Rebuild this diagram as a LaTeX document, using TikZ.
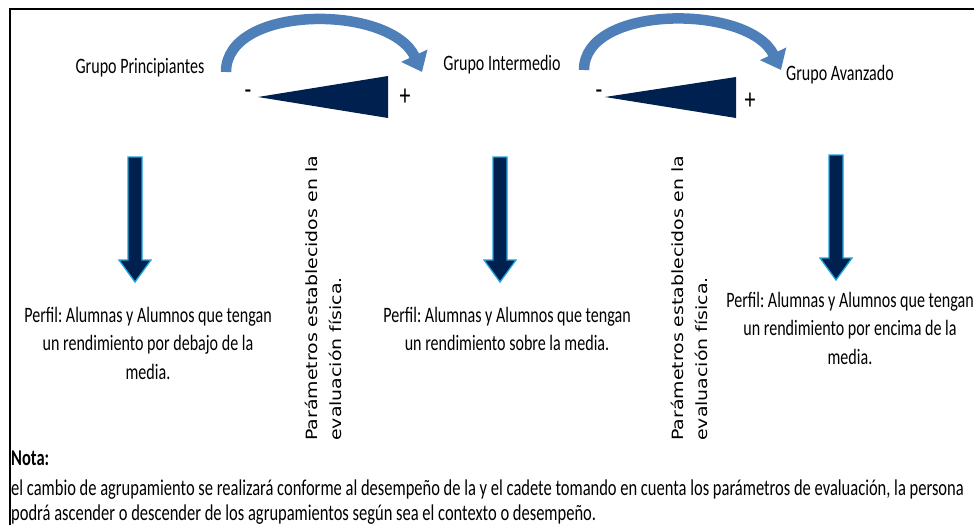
\documentclass[tikz,border=0pt]{standalone}
\usepackage{fontspec}
\setmainfont[FakeStretch=0.73]{Carlito}
\newfontfamily\vfont[FakeStretch=1.22]{DejaVu Sans}
\usetikzlibrary{arrows.meta}
\definecolor{navy}{HTML}{00204F}
\definecolor{steel}{HTML}{4F7FB8}
\definecolor{cyanedge}{HTML}{1FA3DA}
\frenchspacing
\tikzset{
  lbl/.style={font=\fontsize{22}{24}\selectfont, inner sep=0pt},
  perfil/.style={font=\fontsize{22}{28.5}\selectfont, align=center, inner sep=0pt},
  sign/.style={font=\fontsize{30}{30}\selectfont, inner sep=0pt},
  vtext/.style={font=\vfont\fontsize{15.5}{24}\selectfont, rotate=90, align=left, inner sep=0pt, anchor=north west},
  notetext/.style={font=\fontsize{22.6}{25.5}\selectfont, align=left, inner sep=0pt, anchor=west},
  curvearr/.style={draw=steel, line width=10.5pt, -{Triangle[width=28pt,length=18pt]}},
  wedge/.style={fill=navy},
  downarr/.pic={\filldraw[fill=navy, draw=cyanedge, line width=1.3pt]
     (-7,0) -- (7,0) -- (7,103) -- (16,103) -- (0,125) -- (-16,103) -- (-7,103) -- cycle;}
}
\begin{document}
\begin{tikzpicture}[x=1pt,y=-1pt]
\useasboundingbox (0,0) rectangle (974,525);
\draw[line width=2pt] (10,525) -- (10,9) -- (974,9);

\node[lbl] (g1) at (140,68) {Grupo Principiantes};
\node[lbl] (g2) at (502,65) {Grupo Intermedio};
\node[lbl] (g3) at (840,75) {Grupo Avanzado};

\coordinate (a1s) at (226,72);
\coordinate (a1e) at (422,72);
\coordinate (a2s) at (584,70);
\coordinate (a2e) at (781,70);
\draw[curvearr] (a1s) .. controls (226,4) and (390,4) .. (a1e);
\draw[curvearr] (a2s) .. controls (584,4) and (749,4) .. (a2e);

\fill[wedge] (258,97) -- (388,76) -- (388,118) -- cycle;
\fill[wedge] (605,97) -- (736,77) -- (736,118) -- cycle;
\node[sign] (m1) at (248,95) {-};
\node[sign] (p1) at (405,97) {+};
\node[sign] (m2) at (599,95) {-};
\node[sign] (p2) at (750,101) {+};

\pic at (135,157) {downarr};
\pic at (500,157) {downarr};
\pic at (836,155) {downarr};

\node[perfil] (t1) at (148,343) {Perfil: Alumnas y Alumnos que tengan\\un rendimiento por debajo de la\\media.};
\node[perfil] (t2) at (507,329) {Perfil: Alumnas y Alumnos que tengan\\un rendimiento sobre la media.};
\node[perfil] (t3) at (850,328) {Perfil: Alumnas y Alumnos que tengan\\un rendimiento por encima de la\\media.};

\node[vtext] (v1) at (305,441) {Parámetros establecidos en la\\evaluación física.};
\node[vtext] (v2) at (671,441) {Parámetros establecidos en la\\evaluación física.};

\node[notetext, font=\fontsize{22.6}{26}\selectfont\bfseries] (nota) at (11,458) {Nota:};
\node[notetext] (body) at (11,502) {el cambio de agrupamiento se realizará conforme al desempeño de la y el cadete tomando en cuenta los parámetros de evaluación, la persona\\podrá ascender o descender de los agrupamientos según sea el contexto o desempeño.};
\end{tikzpicture}
\end{document}
